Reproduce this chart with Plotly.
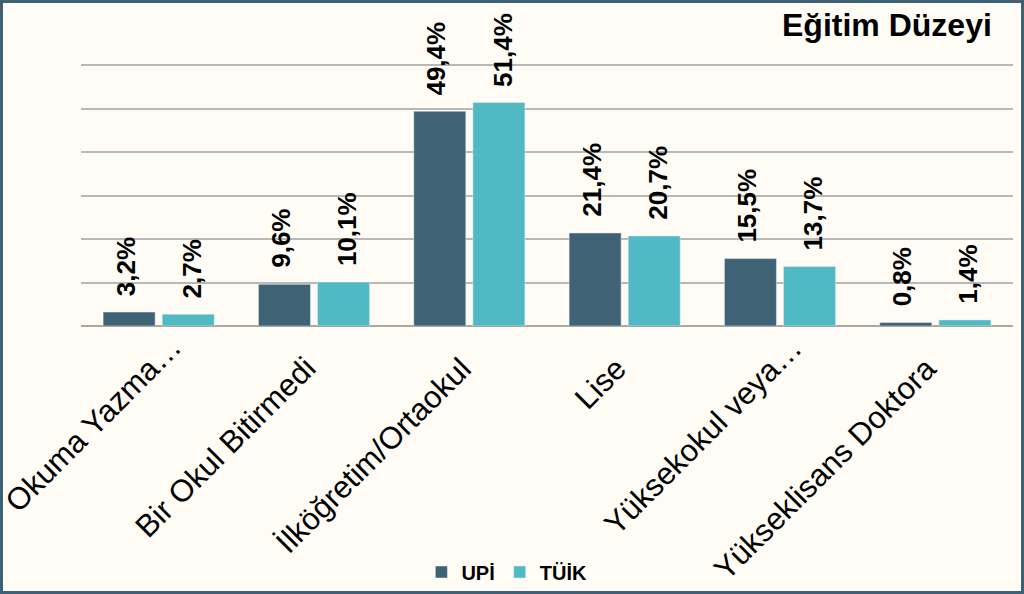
import plotly.graph_objects as go

categories = ["Okuma Yazma…", "Bir Okul Bitirmedi", "İlköğretim/Ortaokul", "Lise",
              "Yüksekokul veya…", "Yükseklisans Doktora"]
upi = [3.2, 9.6, 49.4, 21.4, 15.5, 0.8]
tuik = [2.7, 10.1, 51.4, 20.7, 13.7, 1.4]
series_names = ["UPİ", "TÜİK"]
title_text = "Eğitim Düzeyi"

C_UPI = "#3F6275"
C_TUIK = "#51B9C4"
BG = "#FEFCF5"
FONT = "Liberation Sans, Arial, sans-serif"

W, H = 1024, 594
ML, MR, MT, MB = 81, 11, 63, 268
PW, PH = W - ML - MR, H - MT - MB

fig = go.Figure()
fig.add_bar(x=categories, y=upi, name=series_names[0], marker_color=C_UPI)
fig.add_bar(x=categories, y=tuik, name=series_names[1], marker_color=C_TUIK)

def fmt(v):
    return f"{v:.1f}".replace(".", ",") + "%"

# value labels above bars
for vals, shift in ((upi, -33), (tuik, 33)):
    for c, v in zip(categories, vals):
        fig.add_annotation(x=c, y=v, xref="x", yref="y", text=f"<b>{fmt(v)}</b>",
                           showarrow=False, textangle=-90, xanchor="center",
                           yanchor="bottom", xshift=shift, yshift=14,
                           font=dict(family=FONT, size=26, color="black"))

# category labels (rotated)
for c in categories:
    truncated = c.endswith("…")
    fig.add_annotation(x=c, y=0, xref="x", yref="y", text=c, showarrow=False,
                       textangle=-45, xanchor="right", yanchor="top",
                       xshift=32 if truncated else 11, yshift=-1 if truncated else -22,
                       font=dict(family=FONT, size=31, color="black"))

# chart title
fig.add_annotation(x=(994 - ML) / PW, y=1 + (MT - 25) / PH, xref="paper", yref="paper",
                   text=f"<b>{title_text}</b>", showarrow=False,
                   xanchor="right", yanchor="middle",
                   font=dict(family=FONT, size=32, color="black"))

# outer border
fig.add_shape(type="rect", xref="paper", yref="paper",
              x0=(-ML + 1.5) / PW, x1=1 + (MR - 1.5) / PW,
              y0=(-MB + 1.5) / PH, y1=1 + (MT - 1.5) / PH,
              line=dict(color="#3E6176", width=3), fillcolor="rgba(0,0,0,0)", layer="above")

fig.update_layout(
    width=W, height=H,
    margin=dict(l=ML, r=MR, t=MT, b=MB),
    paper_bgcolor=BG, plot_bgcolor=BG,
    barmode="group", bargap=0.239, bargroupgap=0.12,
    font=dict(family=FONT, color="black"),
    showlegend=True,
    legend=dict(orientation="h", xref="container", yref="container",
                x=0.495, y=22 / H, xanchor="center", yanchor="middle",
                font=dict(family=FONT, size=20, color="black", weight="bold"),
                bgcolor="rgba(0,0,0,0)", itemwidth=30, tracegroupgap=0),
)
fig.update_xaxes(range=[-0.5, len(categories) - 0.5], autorange=False,
                 showticklabels=False, showgrid=False, showline=False, ticks="",
                 automargin=False)
fig.update_yaxes(range=[0, 60.5], autorange=False, dtick=10, showticklabels=False,
                 showgrid=True, gridcolor="#B8B8B8", gridwidth=1.5, zeroline=True,
                 zerolinecolor="#ABA8A0", zerolinewidth=2, showline=False,
                 automargin=False)

fig.write_html("out.html", config={"displayModeBar": False},
               post_script="document.body.style.margin='0';"
                           "document.body.style.background='" + BG + "';")
